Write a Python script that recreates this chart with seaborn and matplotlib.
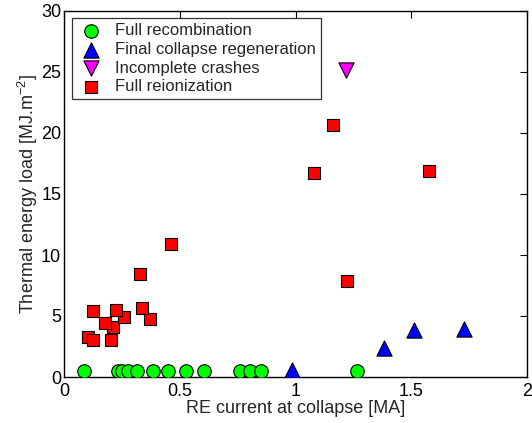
import matplotlib
matplotlib.use("Agg")
import matplotlib.pyplot as plt
import seaborn as sns
import pandas as pd

categories = ["Full recombination", "Final collapse regeneration", "Incomplete crashes", "Full reionization"]

recomb_x = [0.086, 0.233, 0.25, 0.277, 0.316, 0.385, 0.450, 0.529, 0.605, 0.759, 0.802, 0.852, 1.264]
recomb_y = [0.5, 0.5, 0.5, 0.5, 0.5, 0.5, 0.5, 0.5, 0.5, 0.5, 0.5, 0.5, 0.5]

regen_x = [0.984, 1.384, 1.513, 1.728]
regen_y = [0.6, 2.35, 3.85, 3.9]

crash_x = [1.216]
crash_y = [25.2]

reion_x = [0.102, 0.126, 0.203, 0.213, 0.177, 0.260, 0.371, 0.124, 0.224, 0.339, 0.328, 0.464,
           1.082, 1.161, 1.223, 1.578]
reion_y = [3.31, 3.03, 3.03, 4.07, 4.40, 4.95, 4.73, 5.41, 5.49, 5.63, 8.44, 10.9,
           16.75, 20.66, 7.9, 16.9]

xs = [recomb_x, regen_x, crash_x, reion_x]
ys = [recomb_y, regen_y, crash_y, reion_y]
rows = []
for cat, xv, yv in zip(categories, xs, ys):
    for a, b in zip(xv, yv):
        rows.append({"x": a, "y": b, "cat": cat})
df = pd.DataFrame(rows)

sns.set_style("white")
plt.rcParams['font.family'] = ['Liberation Sans', 'DejaVu Sans']
plt.rcParams['mathtext.fontset'] = 'custom'
plt.rcParams['mathtext.rm'] = 'Liberation Sans'
plt.rcParams['mathtext.it'] = 'Liberation Sans'

fig = plt.figure(figsize=(5.32, 4.23), dpi=100)
ax = fig.add_axes([64/532, 1-377/423, (527-64)/532, (377-11)/423])

palette = {categories[0]: "#00ff00", categories[1]: "#0000ff", categories[2]: "#ff00ff", categories[3]: "#ff0000"}
markers = {categories[0]: "o", categories[1]: "^", categories[2]: "v", categories[3]: "s"}
sizes = {categories[0]: 95, categories[1]: 120, categories[2]: 120, categories[3]: 70}

for cat in categories:
    sub = df[df["cat"] == cat]
    sns.scatterplot(data=sub, x="x", y="y", color=palette[cat], marker=markers[cat],
                    s=sizes[cat], edgecolor="black", linewidth=0.8, label=cat, ax=ax, zorder=3)

ax.set_xlim(0, 2)
ax.set_ylim(0, 30)
ax.set_xticks([0, 0.5, 1, 1.5, 2])
ax.set_xticklabels(["0", "0.5", "1", "1.5", "2"])
ax.set_yticks([0, 5, 10, 15, 20, 25, 30])
ax.tick_params(direction="in", length=5, width=0.8, top=True, right=True, labelsize=13, colors="black")
ax.tick_params(axis="x", pad=4)
ax.tick_params(axis="y", pad=2)
for sp in ax.spines.values():
    sp.set_color("black")
    sp.set_linewidth(1.0)
ax.set_xlabel("RE current at collapse [MA]", fontsize=13, labelpad=0)
ax.set_ylabel("Thermal energy load [MJ.m$^{-2}$]", fontsize=13, labelpad=1)

leg = ax.legend(loc="upper left", fontsize=12, frameon=True, fancybox=False,
                edgecolor="black", borderpad=0.3, handletextpad=0.6, labelspacing=0.22,
                borderaxespad=0.45, handlelength=1.7)
leg.get_frame().set_linewidth(0.9)

fig.savefig("out.png", dpi=100)
